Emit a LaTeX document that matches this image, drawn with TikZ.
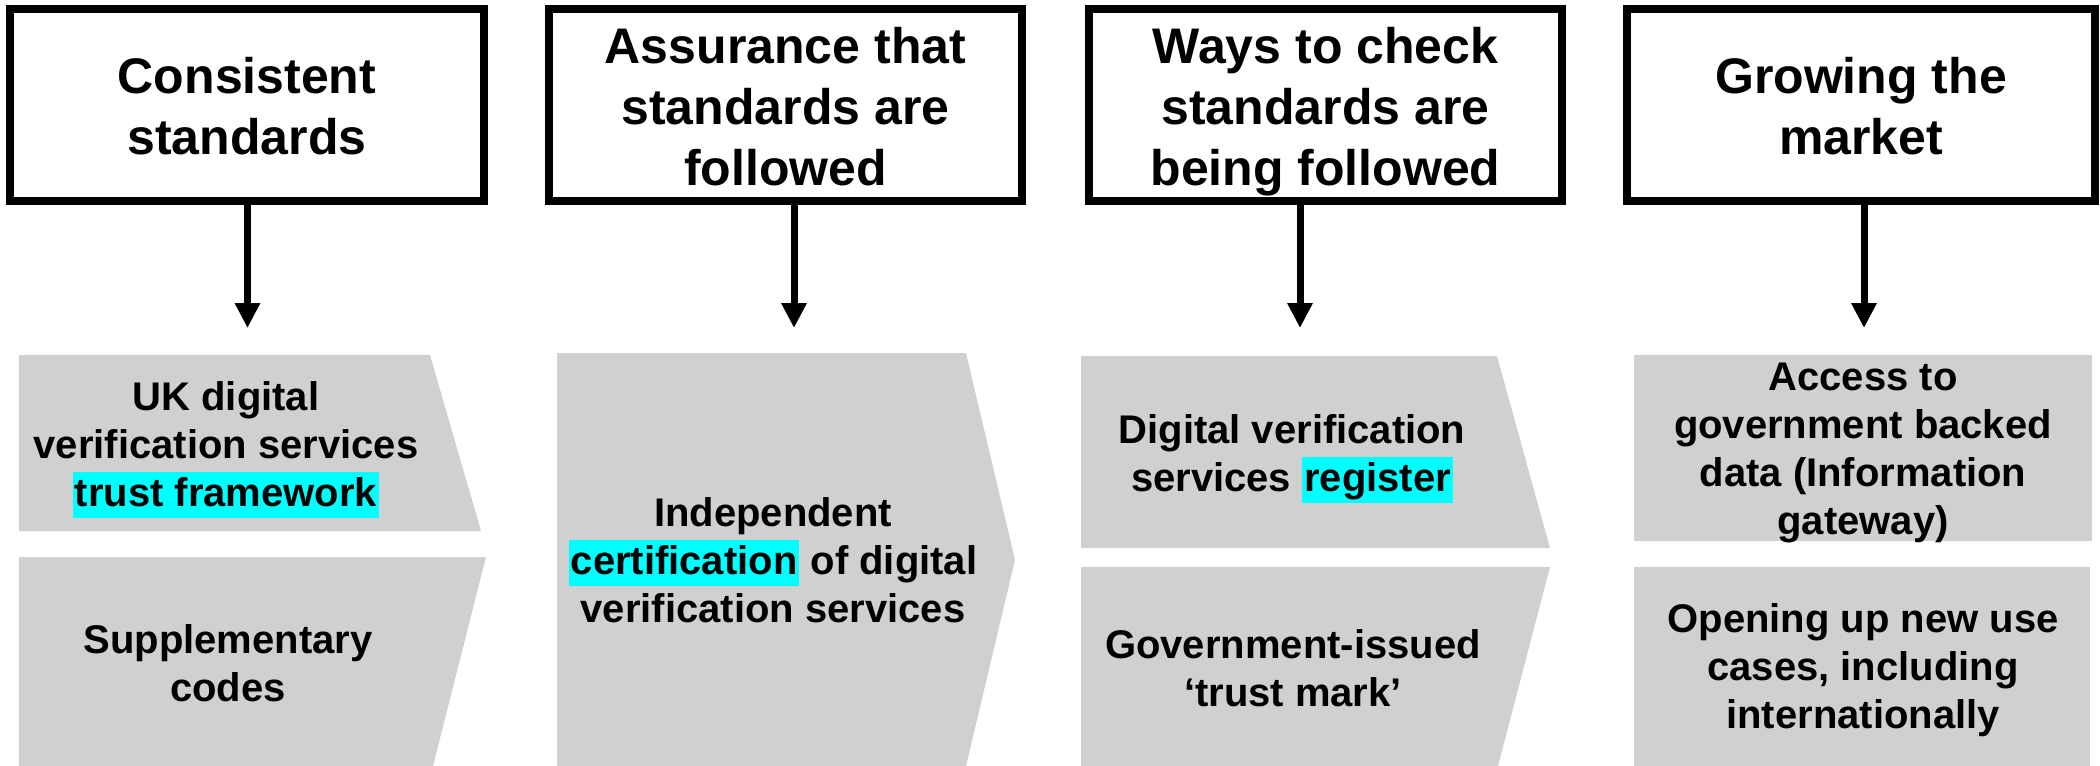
\documentclass[tikz,border=0pt]{standalone}
\usepackage{fontspec}
\setmainfont{Liberation Sans}
\usetikzlibrary{arrows.meta}
\definecolor{boxgray}{HTML}{D0D0D0}
\definecolor{hlcyan}{HTML}{00FFFF}
\newcommand\hlt[1]{\smash{\setlength{\fboxsep}{0pt}\colorbox{hlcyan}{\rule[-5.8pt]{0pt}{23pt}\hspace{1pt}#1\hspace{1pt}}}}
\newcommand\lns[1]{\begin{tabular}[t]{@{}c@{}}#1\end{tabular}}
\begin{document}
\begin{tikzpicture}[x=0.5pt,y=-0.5pt,
  headbox/.style={draw=black,line width=4pt,fill=white,minimum height=96pt,inner sep=0pt},
  headtext/.style={anchor=base,inner sep=0pt,font=\fontsize{25}{30.5}\selectfont\bfseries},
  bodytext/.style={anchor=base,inner sep=0pt,font=\fontsize{20}{24}\selectfont\bfseries},
  slab/.style={fill=boxgray},
  arr/.style={line width=3.5pt,-{Triangle[length=12.5pt,width=12pt]}}]
\useasboundingbox (0,0) rectangle (2100,766);

% grey panels
\fill[slab] (19,355) -- (430,355) -- (481,531) -- (19,531) -- cycle;
\fill[slab] (19,557) -- (486,557) -- (433,766) -- (19,766) -- cycle;
\fill[slab] (557,353) -- (966,353) -- (1015,560) -- (966,766) -- (557,766) -- cycle;
\fill[slab] (1081,356) -- (1497,356) -- (1550,548) -- (1081,548) -- cycle;
\fill[slab] (1081,567) -- (1550,567) -- (1498,766) -- (1081,766) -- cycle;
\fill[slab] (1634,355) rectangle (2092,541);
\fill[slab] (1634,567) rectangle (2090,766);

% heading boxes
\node[headbox,minimum width=237pt] (h1) at (247,105) {};
\node[headbox,minimum width=236.5pt] (h2) at (785.5,105) {};
\node[headbox,minimum width=236.5pt] (h3) at (1325.5,105) {};
\node[headbox,minimum width=234pt] (h4) at (1861,105) {};

\node[headtext] (h1t) at (247,93) {\lns{Consistent\\standards}};
\node[headtext] (h2t) at (785.5,63) {\lns{Assurance that\\standards are\\followed}};
\node[headtext] (h3t) at (1325.5,63) {\lns{Ways to check\\standards are\\being followed}};
\node[headtext] (h4t) at (1861,93) {\lns{Growing the\\market}};

% arrows
\coordinate (a1) at (247.5,328);
\coordinate (a2) at (794,328);
\coordinate (a3) at (1300,328);
\coordinate (a4) at (1864,328);
\draw[arr] (h1.south -| a1) -- (a1);
\draw[arr] (h2.south -| a2) -- (a2);
\draw[arr] (h3.south -| a3) -- (a3);
\draw[arr] (h4.south -| a4) -- (a4);

% body texts
\node[bodytext] (b1a) at (226,410) {\lns{UK digital\\verification services\\\hlt{trust framework}}};
\node[bodytext] (b1b) at (228,653) {\lns{Supplementary\\codes}};
\node[bodytext] (b2) at (773,526.5) {\lns{Independent\\\hlt{certification} of digital\\verification services}};
\node[bodytext] (b3a) at (1292,443) {\lns{Digital verification\\services \hlt{register}}};
\node[bodytext] (b3b) at (1293,658) {\lns{Government-issued\\‘trust mark’}};
\node[bodytext] (b4a) at (1863,390) {\lns{Access to\\government backed\\data (Information\\gateway)}};
\node[bodytext] (b4b) at (1863,632) {\lns{Opening up new use\\cases, including\\internationally}};
\end{tikzpicture}
\end{document}
